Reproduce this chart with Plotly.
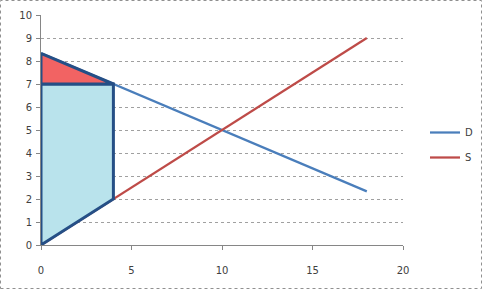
import plotly.graph_objects as go

# Data
d_x = [0, 18]
d_y = [8.333, 2.333]
s_x = [0, 18]
s_y = [0, 9]
prod_x = [0, 0, 4, 4, 0]
prod_y = [0, 7, 7, 2, 0]
cons_x = [0, 0, 4, 0]
cons_y = [8.333, 7, 7, 8.333]
x_ticks = [0, 5, 10, 15, 20]
y_ticks = list(range(0, 11))

fig = go.Figure()
fig.add_trace(go.Scatter(x=d_x, y=d_y, mode="lines", name="D", legendgroup="d",
                         line=dict(color="#4a7ebb", width=2.25)))
fig.add_trace(go.Scatter(x=s_x, y=s_y, mode="lines", name="S", legendgroup="s",
                         line=dict(color="#be4b48", width=2.25)))
fig.add_trace(go.Scatter(x=prod_x, y=prod_y, mode="lines", fill="toself",
                         fillcolor="#b9e3ec", line=dict(color="#254f86", width=3),
                         showlegend=False, hoverinfo="skip"))
fig.add_trace(go.Scatter(x=cons_x, y=cons_y, mode="lines", fill="toself",
                         fillcolor="#f26363", line=dict(color="#254f86", width=3),
                         showlegend=False, hoverinfo="skip"))

L, R, T, B = 41, 79, 15, 44
W, H = 482, 289
pw, ph = W - L - R, H - T - B

fig.update_layout(
    width=W, height=H,
    margin=dict(l=L, r=R, t=T, b=B, autoexpand=False),
    paper_bgcolor="white", plot_bgcolor="white",
    font=dict(family="DejaVu Sans, Arial", size=10, color="#404040"),
    showlegend=True,
    legend=dict(xref="container", yref="container", x=425 / W, y=1 - 145 / H,
                yanchor="middle", xanchor="left",
                bgcolor="rgba(0,0,0,0)", font=dict(size=10, color="#404040"),
                tracegroupgap=6, itemwidth=30),
    xaxis=dict(range=[0, 20], tickvals=x_ticks, showgrid=False, zeroline=False,
               showline=True, linecolor="#868686", linewidth=1,
               ticks="outside", ticklen=4, tickcolor="#868686",
               ticklabelstandoff=12, fixedrange=True),
    yaxis=dict(range=[0, 10], tickvals=y_ticks, showgrid=True,
               gridcolor="#a0a0a0", griddash="dot", gridwidth=1, zeroline=False,
               showline=True, linecolor="#868686", linewidth=1,
               ticks="outside", ticklen=4, tickcolor="#868686",
               ticklabelstandoff=2, fixedrange=True),
)

# outer dotted border
fig.add_shape(type="rect", xref="paper", yref="paper",
              x0=(0.5 - L) / pw, x1=(W - 0.5 - L) / pw,
              y0=-(B - 0.5) / ph,
              y1=1 + (T - 0.5) / ph,
              line=dict(color="#909090", width=1, dash="dot"), layer="below")

fig.write_html("out.html")
